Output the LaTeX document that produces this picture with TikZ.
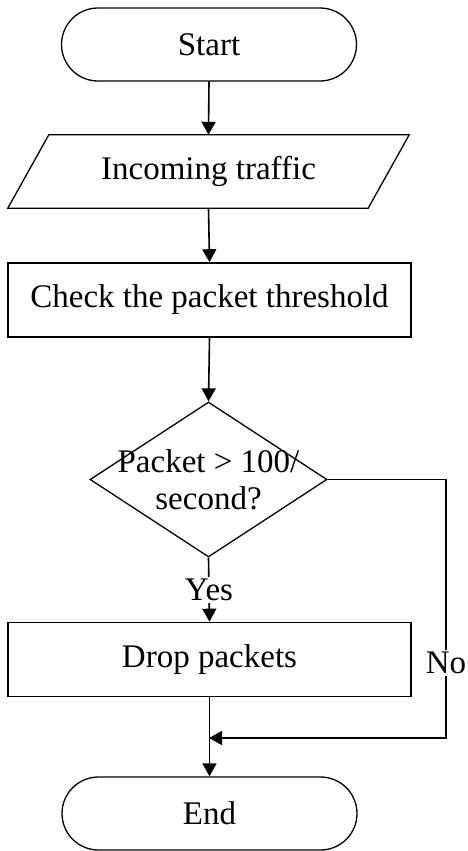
\documentclass[tikz,border=0pt]{standalone}
\usepackage{fontspec}
\setmainfont{Liberation Serif}
\usetikzlibrary{arrows.meta,shapes.geometric}
\begin{document}
\begin{tikzpicture}[x=1pt,y=-1pt,
  every node/.style={font=\fontsize{33}{38.4}\selectfont, text=black},
  terminal/.style={draw, rectangle, rounded corners=36.5pt, minimum width=295pt,
    minimum height=73pt, line width=1.3pt, inner sep=0pt},
  procbox/.style={draw, rectangle, minimum width=403pt, minimum height=74pt,
    line width=1.6pt, inner sep=0pt},
  iobox/.style={rectangle, minimum width=360pt, minimum height=73pt, inner sep=0pt},
  decision/.style={draw, diamond, minimum width=237pt, minimum height=155pt,
    inner sep=0pt, line width=1.3pt},
  outline/.style={line width=1.3pt, line join=miter},
  flow/.style={line width=1.6pt, -{Triangle[length=13pt,width=14pt]}},
  edgelabel/.style={fill=white, inner sep=2pt}
]
\useasboundingbox (0,0) rectangle (467,851);

% terminals and process steps
\node[terminal] (start) at (209,44.5) {Start};
\node[iobox] (io) at (208.5,171.5) {Incoming traffic};
\draw[outline] ([xshift=20.5pt]io.north west) -- ([xshift=20.5pt]io.north east)
  -- ([xshift=-20.5pt]io.south east) -- ([xshift=-20.5pt]io.south west) -- cycle;
\node[procbox] (check) at (209.5,300) {Check the packet threshold};
\node[decision] (dec) at (208.5,479.5) {};
\node[align=center, inner sep=0pt] (dectext) at (dec.center)
  {Packet {>} 100/\\[-1pt]second?};
\node[procbox] (drop) at (209.5,659.5) {Drop packets};
\node[terminal] (end) at (209.5,813.5) {End};

% turning points of the "No" branch
\coordinate (ncorner) at (446,479.5);
\coordinate (nlow) at (446,738);
\coordinate (merge) at (209,738);

% main flow
\draw[flow] (start.south) -- (io.north);
\draw[flow] (io.south) -- (check.north);
\draw[flow] (check.south) -- (dec.north);
\draw[flow] (dec.south) -- node[edgelabel] (yes) {Yes} (drop.north);
\draw[flow] (drop.south) -- (end.north);

% "No" branch back into the main line
\draw[flow] (dec.east) -- (ncorner) -- node[edgelabel, pos=0.709] (no) {No} (nlow) -- (merge);
\end{tikzpicture}
\end{document}
